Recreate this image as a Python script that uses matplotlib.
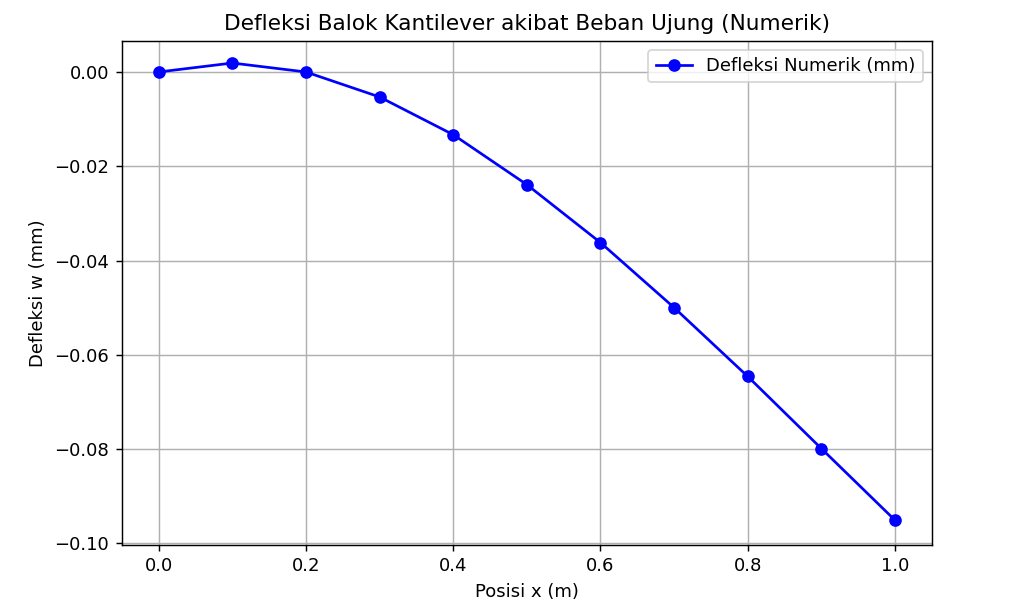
import numpy as np
import matplotlib
matplotlib.use("Agg")
import matplotlib.pyplot as plt

# posisi dan defleksi
x_pos = [0.0, 0.1, 0.2, 0.3, 0.4, 0.5, 0.6, 0.7, 0.8, 0.9, 1.0]
w_num = [0.0, 0.0019, 0.0, -0.0053, -0.0133, -0.0239, -0.0362,
         -0.0500, -0.0646, -0.0799, -0.0951]

dpi = 130
fig = plt.figure(figsize=(1024 / dpi, 610 / dpi), dpi=dpi)
ax = fig.add_axes([0.119, 0.107, 0.791, 0.826])

ax.plot(x_pos, w_num, "o-", color="blue", label="Defleksi Numerik (mm)")
ax.set_title("Defleksi Balok Kantilever akibat Beban Ujung (Numerik)")
ax.set_xlabel("Posisi x (m)")
ax.set_ylabel("Defleksi w (mm)")
ax.set_xlim(-0.05, 1.05)
ax.set_ylim(-0.1003, 0.0066)
ax.grid(True)
ax.legend()

fig.savefig("out.png", dpi=dpi)
